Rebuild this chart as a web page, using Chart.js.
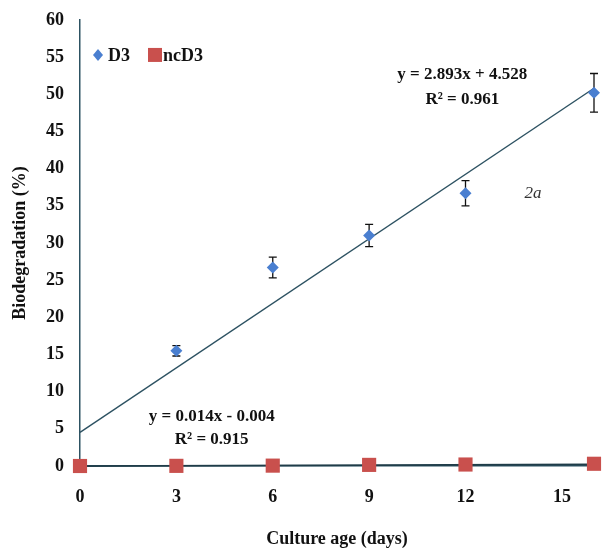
<!DOCTYPE html>
<html><head><meta charset="utf-8">
<script src="https://cdn.jsdelivr.net/npm/chart.js@4"></script>
<style>html,body{margin:0;padding:0;background:#fff}#wrap{width:604px;height:554px}</style>
</head><body><div id="wrap"><canvas id="c" width="604" height="554"></canvas></div>
<script>
const days = [0, 3, 6, 9, 12, 16];
const d3 = [0, 15.5, 26.7, 31.0, 36.7, 50.2];
const d3Err = [0, 0.7, 1.4, 1.5, 1.7, 2.6];
const ncd3 = [0, 0.02, 0.05, 0.15, 0.2, 0.3];
const xTickValues = [0, 3, 6, 9, 12, 15];
const yTickValues = [0,5,10,15,20,25,30,35,40,45,50,55,60];
const trendD3X = [0, 16];
const trendD3Y = [4.528, 50.816];
const trendNcX = [0, 16];
const trendNcY = [-0.004, 0.22];
const labels = [
  {text:'y = 2.893x + 4.528', x:11.9, y:52.6},
  {text:'R² = 0.961', x:11.9, y:49.3},
  {text:'y = 0.014x - 0.004', x:4.1, y:6.7},
  {text:'R² = 0.915', x:4.1, y:3.6}
];
const FONT = '"Liberation Serif", "DejaVu Serif", serif';
const lineCol = '#2d5262';

const pts = (xs, ys) => xs.map((x,i)=>({x:x, y:ys[i]}));

const extras = {
  id:'extras',
  beforeDatasetsDraw(chart){
    const {ctx, scales:{x, y}} = chart;
    ctx.save();
    ctx.strokeStyle = '#111';
    ctx.lineWidth = 1.3;
    days.forEach((d,i)=>{
      const e = d3Err[i]; if(!e) return;
      const px = x.getPixelForValue(d);
      const y1 = y.getPixelForValue(d3[i]+e), y2 = y.getPixelForValue(d3[i]-e);
      ctx.beginPath();
      ctx.moveTo(px,y1); ctx.lineTo(px,y2);
      ctx.moveTo(px-4,y1); ctx.lineTo(px+4,y1);
      ctx.moveTo(px-4,y2); ctx.lineTo(px+4,y2);
      ctx.stroke();
    });
    ctx.restore();
  },
  afterDraw(chart){
    const {ctx, scales:{x, y}} = chart;
    ctx.save();
    ctx.fillStyle = '#111';
    ctx.textAlign = 'center';
    ctx.textBaseline = 'middle';
    ctx.font = 'bold 17px ' + FONT;
    labels.forEach(l=>ctx.fillText(l.text, x.getPixelForValue(l.x), y.getPixelForValue(l.y)));
    ctx.font = 'italic 17px ' + FONT;
    ctx.fillStyle = '#333';
    ctx.fillText('2a', x.getPixelForValue(14.1), y.getPixelForValue(36.7));
    // legend
    const ly = y.getPixelForValue(55.3);
    const lx = x.left + 18;
    ctx.fillStyle = '#4a7fd0';
    ctx.beginPath();
    ctx.moveTo(lx, ly-6); ctx.lineTo(lx+5, ly); ctx.lineTo(lx, ly+6); ctx.lineTo(lx-5, ly); ctx.closePath();
    ctx.fill();
    ctx.fillStyle = '#111';
    ctx.textAlign = 'left';
    ctx.font = 'bold 18px ' + FONT;
    ctx.fillText('D3', lx+10, ly+1);
    ctx.fillStyle = '#c9504d';
    ctx.fillRect(lx+50, ly-7, 14, 14);
    ctx.fillStyle = '#111';
    ctx.fillText('ncD3', lx+65, ly+1);
    ctx.restore();
  }
};

new Chart(document.getElementById('c'), {
  type:'scatter',
  data:{datasets:[
    {label:'D3', data:pts(days,d3), pointStyle:'rectRot', pointRadius:6, pointHoverRadius:6,
     backgroundColor:'#4a7fd0', borderColor:'#4a7fd0', borderWidth:0, order:1, clip:false},
    {label:'ncD3', data:pts(days,ncd3), pointStyle:'rect', pointRadius:10, pointHoverRadius:10,
     backgroundColor:'#c9504d', borderColor:'#c9504d', borderWidth:0, order:0, clip:false},
    {label:'D3 trend', type:'line', data:pts(trendD3X,trendD3Y), borderColor:lineCol, borderWidth:1.4,
     pointRadius:0, fill:false, order:2, clip:false},
    {label:'ncD3 trend', type:'line', data:pts(trendNcX,trendNcY), borderColor:'#1f3c48', borderWidth:1.8,
     pointRadius:0, fill:false, order:2, clip:false}
  ]},
  options:{
    responsive:false, animation:false, devicePixelRatio:1,
    layout:{padding:{top:20, right:6, left:0, bottom:0}},
    plugins:{legend:{display:false}, tooltip:{enabled:false}},
    scales:{
      x:{type:'linear', min:0, max:16,
        afterBuildTicks(s){ s.ticks = xTickValues.map(v=>({value:v})); },
        afterFit(s){ s.height = 88; },
        grid:{display:false, drawOnChartArea:false, drawTicks:true, tickLength:6, tickColor:lineCol},
        border:{display:true, color:lineCol, width:1.5},
        ticks:{color:'#111', font:{family:FONT, size:18, weight:'bold'}, padding:15, maxRotation:0},
        title:{display:true, text:'Culture age (days)', color:'#111', font:{family:FONT, size:18, weight:'bold'}, padding:{top:14}}
      },
      y:{type:'linear', min:0, max:60,
        afterBuildTicks(s){ s.ticks = yTickValues.map(v=>({value:v})); },
        afterFit(s){ s.width = 80; },
        grid:{display:false, drawOnChartArea:false, drawTicks:true, tickLength:7, tickColor:lineCol},
        border:{display:true, color:lineCol, width:1.5},
        ticks:{color:'#111', font:{family:FONT, size:18, weight:'bold'}, padding:9},
        title:{display:true, text:'Biodegradation (%)', color:'#111', font:{family:FONT, size:18, weight:'bold'}, padding:{top:10,bottom:0}}
      }
    }
  },
  plugins:[extras]
});
</script></body></html>
